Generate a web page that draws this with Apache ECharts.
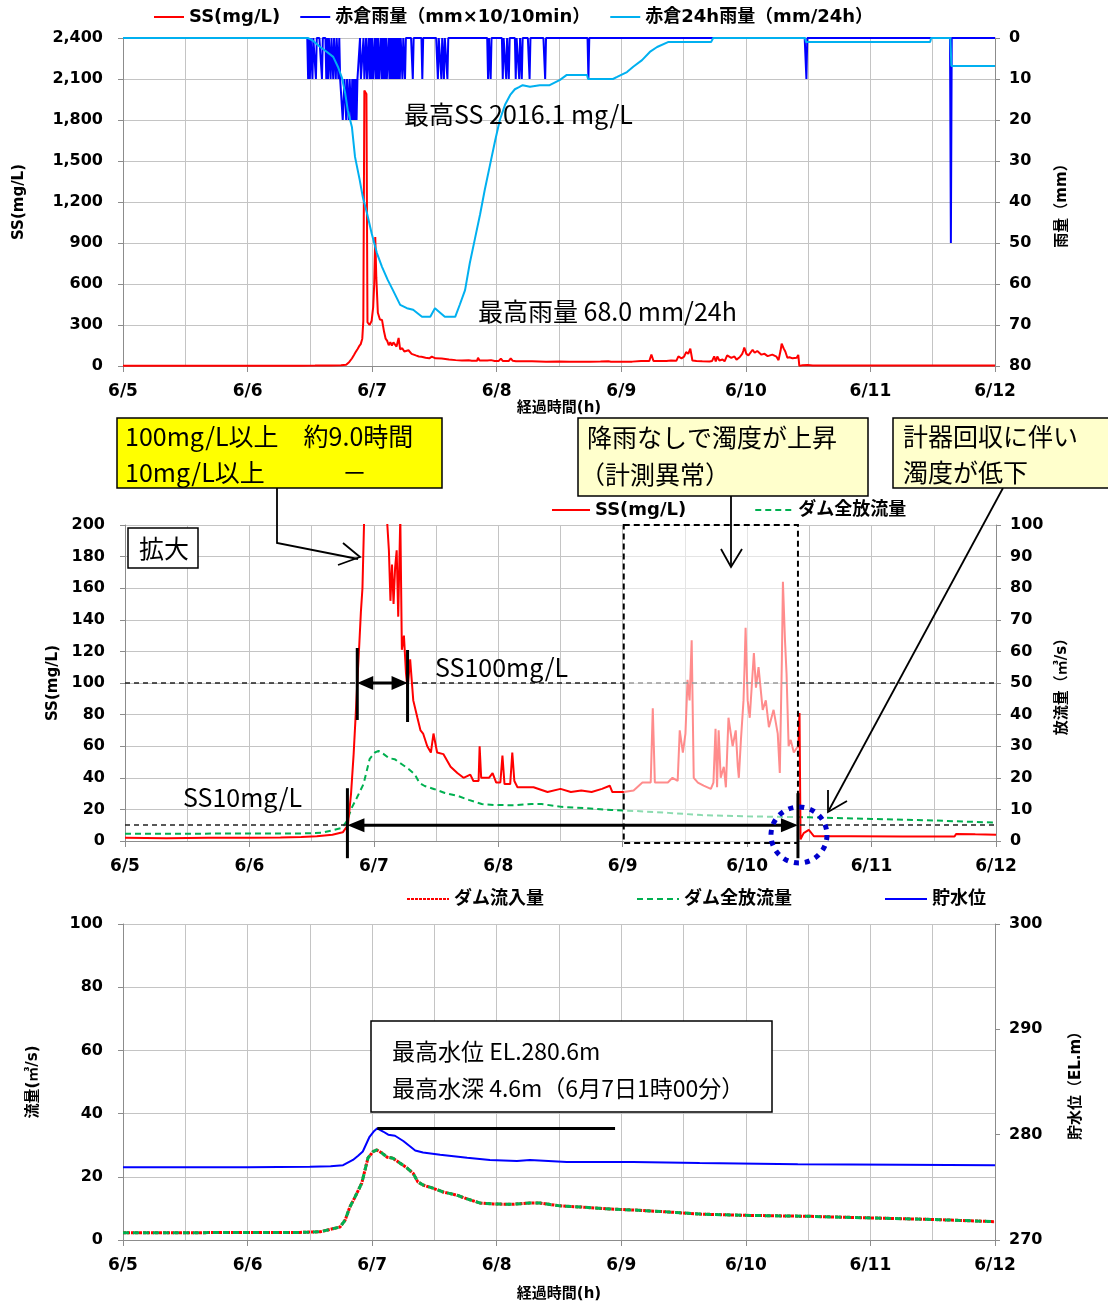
<!DOCTYPE html>
<html><head><meta charset="utf-8">
<script src="https://cdn.jsdelivr.net/npm/echarts@6/dist/echarts.min.js"></script>
<style>html,body{margin:0;padding:0;background:#fff}#c{width:1108px;height:1303px}</style>
</head><body><div id="c"></div>
<script>
// ---- tick labels ----
const dayLabels = ['6/5','6/6','6/7','6/8','6/9','6/10','6/11','6/12'];
// ---- data (x = hours since 6/5 0:00) ----
const ssSeries = [[0,2],[8,1.8],[16,2],[24,2],[30,2.2],[34,2.5],[37,3],[40,4],[42,5.5],[43,10],[43.6,30],[44.1,55],[44.5,80],[44.8,100],[45.2,125],[45.5,145],[45.8,160],[46.1,200],[46.3,330],[46.5,2016.1],[46.9,1990],[47.1,320],[47.5,300],[47.9,330],[48.2,430],[48.4,600],[48.6,944],[48.8,650],[49.1,390],[49.5,340],[49.9,337],[50.3,250],[50.6,200],[50.9,184],[51.2,152],[51.5,175],[51.8,150],[52.1,173],[52.4,184],[52.7,142],[53.1,205],[53.4,121],[53.8,130],[54.2,106],[54.5,96],[55.0,115],[55.6,89],[56.4,78],[57.0,70],[57.5,68],[58.3,60],[59.0,56],[59.5,68],[60.2,56],[61.4,55],[62.8,47],[64.1,43],[65.3,40],[66.6,42],[67.2,38],[68.2,38],[68.4,60],[68.7,40],[70.2,40],[70.9,43],[71.6,37],[72.4,37],[72.8,54],[73.2,36],[74.3,36],[74.7,56],[75.1,38],[75.7,34],[78.8,34],[81.5,31],[84,33],[86,31],[88,32],[90,31],[92,33],[93.5,35],[94,31],[96.2,31],[98.1,32],[99.8,37],[101.4,37],[101.8,84],[102.2,37],[104.7,37],[105.6,40],[106.6,38],[107,70],[107.6,56],[108.1,68],[108.5,102],[108.9,89],[109.3,127],[109.7,40],[110.5,37],[111.6,35],[113,33],[113.5,37],[113.9,71],[114.2,34],[114.5,70],[114.9,40],[115.5,47],[115.9,34],[116.4,78],[117.2,60],[117.8,70],[118.2,47],[118.4,40],[118.8,64],[119.3,89],[119.5,110],[119.7,135],[120.1,89],[120.5,78],[121.3,119],[121.7,97],[122.2,110],[123,83],[123.6,89],[124.2,72],[125.1,83],[125.9,68],[126.3,43],[126.7,115],[126.9,164],[127.3,127],[127.6,106],[128,60],[128.4,64],[129,56],[129.8,60],[130.1,81],[130.3,1],[130.9,5],[131.9,7],[132.9,3],[140,3],[150,2.8],[160,2.8],[160.3,4.5],[164,4.2],[168,4]];
// 10-minute rainfall (index of 10-min step, value mm x10)
const rainIdx = [214,216,219,223,230,235,237,240,243,246,249,
  251,252,253,254,255,256,257,258,259,260,261,262,263,264,265,266,267,268,269,270,271,272,273,275,276,277,279,280,282,283,285,
  287,289,290,292,294,296,297,299,301,303,305,306,308,310,312,314,316,318,320,323,326,
  335,346,364,368,371,375,422,425,439,443,446,454,458,461,470,488,538,790,957];
const rainVal = [10,10,10,10,10,10,10,10,10,10,10,
  10,10,10,20,20,10,10,20,10,10,20,10,10,20,10,20,10,20,10,20,10,10,10,10,10,10,10,10,10,10,10,
  10,10,10,10,10,10,10,10,10,10,10,10,10,10,10,10,10,10,10,10,10,
  10,10,10,10,10,10,10,10,10,10,10,10,10,10,10,10,10,10,50];
const rain24 = [[0,0],[35.6,0],[36.4,0.5],[38.0,2.2],[39.3,3.4],[40.5,4.6],[41.4,7],[42.2,9.8],[42.8,13.4],[43.3,17.6],[44.1,21.7],[44.7,29],[45.6,34.6],[46.2,38.8],[47.0,42.7],[47.9,47.6],[48.9,52.4],[49.9,55.8],[51.0,59],[52.0,61.5],[53.4,65.1],[54.7,65.9],[55.9,66.3],[57.6,68],[59.2,68],[60.1,65.9],[61.1,67],[62.0,68],[64.0,68],[64.9,65],[65.9,61.5],[66.8,55],[67.8,49],[68.8,43],[69.7,37],[70.7,31],[71.7,25],[72.6,20],[73.6,16.3],[74.6,13.9],[75.5,12.5],[76.3,12],[77.0,11.5],[78.4,11.9],[80.3,11.5],[82.2,11.5],[84.2,10.2],[85.5,9],[89.4,9],[89.6,10],[94.4,10],[95.2,9.5],[97.1,8.3],[98.3,7],[100.0,5.4],[101.5,3.4],[102.9,2.2],[105.0,1],[113.3,1],[113.7,0],[131.4,0],[131.6,1],[155.5,1],[155.7,0],[159.4,0],[159.6,6.8],[168,6.8]];
const outflow = [[0,2.3],[12,2.3],[24,2.4],[34.1,2.4],[38.0,2.6],[41.8,4.1],[42.8,6.3],[43.7,10.4],[44.7,13.6],[46.0,18],[46.6,22],[47.2,26],[48.2,28],[48.9,28.5],[49.9,27.5],[50.9,26.2],[52.0,25.9],[53.4,24.3],[54.7,22.8],[55.9,21.1],[56.8,18.4],[57.8,17.4],[59.7,16.4],[61.7,15.2],[64.3,14.2],[66.3,13],[68.8,11.7],[71.3,11.4],[75.1,11.3],[78.4,11.7],[80.3,11.7],[84.2,10.8],[88.6,10.4],[93.8,9.8],[98.3,9.5],[104.8,8.9],[111.2,8.2],[120,7.8],[132,7.5],[144,7.0],[156,6.5],[168,5.8]];
const inflow = [[0,2.3],[12,2.3],[24,2.4],[34.1,2.4],[38.0,2.6],[41.8,4.1],[42.8,6.3],[43.7,10.4],[44.7,13.6],[46.0,18],[46.6,22],[47.2,26],[48.2,28],[48.9,28.5],[49.9,27.5],[50.9,26.2],[52.0,25.9],[53.4,24.3],[54.7,22.8],[55.9,21.1],[56.8,18.4],[57.8,17.4],[59.7,16.4],[61.7,15.2],[64.3,14.2],[66.3,13],[68.8,11.7],[71.3,11.4],[75.1,11.3],[78.4,11.7],[80.3,11.7],[84.2,10.8],[88.6,10.4],[93.8,9.8],[98.3,9.5],[104.8,8.9],[111.2,8.2],[120,7.8],[132,7.5],[144,7.0],[156,6.5],[168,5.8]];
const level = [[0,276.9],[12,276.9],[24,276.9],[36,276.95],[40,277.0],[42.4,277.1],[44.3,277.6],[45.3,278.0],[46.2,278.4],[47.5,279.8],[48.4,280.35],[49.0,280.6],[50.1,280.3],[51.1,280.0],[52.4,279.9],[54.0,279.4],[56.3,278.5],[57.8,278.3],[61.1,278.1],[66.3,277.8],[70.7,277.6],[75.9,277.5],[78.4,277.6],[85.5,277.4],[98.2,277.4],[111.1,277.3],[130,277.2],[150,277.15],[168,277.1]];
const maxLevelLine = [49.0, 94.8, 280.6];
const abnormalPeriod = [96.2, 129.8];
const span100 = [44.8, 54.5];
const span10 = [42.9, 129.8];

// build 10-min rainfall series
const rainMap = {};
rainIdx.forEach((k,i)=>{ rainMap[k] = rainVal[i]; });
const rainSeries = [];
for (let k = 0; k <= 1008; k++) rainSeries.push([k/6, rainMap[k] || 0]);

const AX = '#8c8c8c', GRID = '#c4c4c4';
const FONT = "'DejaVu Sans','Noto Sans CJK JP'";
const tickLbl = {fontFamily: FONT, fontWeight: 'bold', fontSize: 16, color: '#000'};
const nameStyle = {fontFamily: FONT, fontWeight: 'bold', fontSize: 15, color: '#000'};

function xAx(gi, showName, nameGap){
  return {type:'value', gridIndex: gi, min:0, max:168, interval:24,
    axisLine:{show:true, onZero:false, lineStyle:{color:AX}},
    axisTick:{show:true, length:6, lineStyle:{color:AX}},
    axisLabel:Object.assign({}, tickLbl, {fontSize:17, margin:17, formatter: v => (v % 24 === 0 ? dayLabels[v/24] : '')}),
    splitLine:{show:true, lineStyle:{color:GRID}},
    minorTick:{show:false, splitNumber:2},
    minorSplitLine:{show:true, lineStyle:{color:GRID}},
    name: showName ? '経過時間(h)' : '', nameLocation:'middle', nameGap: nameGap || 30, nameTextStyle: nameStyle};
}
function yAx(gi, pos, min, max, interval, opts){
  return Object.assign({type:'value', gridIndex: gi, position: pos, min, max, interval,
    axisLine:{show:true, lineStyle:{color:AX}},
    axisTick:{show:true, length:5, lineStyle:{color:AX}},
    axisLabel:Object.assign({}, tickLbl, {margin: pos === 'left' ? 20 : 14}),
    splitLine:{show: pos === 'left', lineStyle:{color:GRID}},
    nameLocation:'middle', nameRotate:90, nameTextStyle: nameStyle}, opts || {});
}

const legendText = {fontFamily: FONT, fontWeight:'bold', fontSize:18, color:'#000'};
const legendItem = {color:'rgba(0,0,0,0)', borderWidth:0, borderColor:'rgba(0,0,0,0)'};
const option = {
  animation: false,
  backgroundColor: '#fff',
  textStyle: {fontFamily: FONT},
  grid: [
    {left:123, top:38, width:872, height:328},
    {left:125, top:525, width:871, height:316},
    {left:123, top:924, width:872, height:316}
  ],
  legend: [
    {data:['SS(mg/L)','赤倉雨量（mm×10/10min）','赤倉24h雨量（mm/24h）'], left:148, top:3, itemWidth:30, itemHeight:14, itemGap:19, itemStyle:legendItem, textStyle:legendText},
    {data:['SS(mg/L)','ダム全放流量'], left:546, top:496, itemWidth:38, itemHeight:14, itemGap:68, itemStyle:legendItem, textStyle:legendText},
    {data:['ダム流入量','ダム全放流量','貯水位'], left:401, top:885, itemWidth:42, itemHeight:14, itemGap:92, itemStyle:legendItem, textStyle:legendText}
  ],
  xAxis: [xAx(0, true, 34), xAx(1, false), xAx(2, true, 47)],
  yAxis: [
    yAx(0,'left',0,2400,300,{name:'SS(mg/L)', nameGap:96, axisLabel:Object.assign({}, tickLbl, {margin:20, formatter: v => v.toLocaleString('en-US')})}),
    yAx(0,'right',0,80,10,{inverse:true, name:'雨量（mm）', nameGap:60}),
    yAx(1,'left',0,200,20,{name:'SS(mg/L)', nameGap:60}),
    yAx(1,'right',0,100,10,{name:'放流量（㎥/s）', nameGap:56}),
    yAx(2,'left',0,100,20,{name:'流量(㎥/s)', nameGap:82}),
    yAx(2,'right',270,300,10,{name:'貯水位（EL.m）', nameGap:74})
  ],
  series: [
    {name:'SS(mg/L)', type:'line', xAxisIndex:0, yAxisIndex:0, data: ssSeries, symbol:'none', lineStyle:{color:'#FF0000', width:2}, itemStyle:{color:'#FF0000'}, z:2},
    {name:'赤倉雨量（mm×10/10min）', type:'line', xAxisIndex:0, yAxisIndex:1, data: rainSeries, symbol:'none', lineStyle:{color:'#0000FF', width:2}, itemStyle:{color:'#0000FF'}, z:3},
    {name:'赤倉24h雨量（mm/24h）', type:'line', xAxisIndex:0, yAxisIndex:1, data: rain24, symbol:'none', lineStyle:{color:'#00B0F0', width:2}, itemStyle:{color:'#00B0F0'}, z:4},
    {name:'SS(mg/L)', type:'line', xAxisIndex:1, yAxisIndex:2, data: ssSeries, symbol:'none', lineStyle:{color:'#FF0000', width:2}, itemStyle:{color:'#FF0000'}, z:3,
      markLine:{silent:true, symbol:'none', label:{show:false}, lineStyle:{color:'#222', type:[5,4], width:1.5}, data:[{yAxis:100},{yAxis:10}]}},
    {name:'ダム全放流量', type:'line', xAxisIndex:1, yAxisIndex:3, data: outflow, symbol:'none', lineStyle:{color:'#00B050', width:2, type:[6,4]}, itemStyle:{color:'#00B050'}, z:2},
    {name:'ダム流入量', type:'line', xAxisIndex:2, yAxisIndex:4, data: inflow, symbol:'none', lineStyle:{color:'#FF0000', width:3, type:[3,1]}, itemStyle:{color:'#FF0000'}, z:2},
    {name:'ダム全放流量', type:'line', xAxisIndex:2, yAxisIndex:4, data: outflow, symbol:'none', lineStyle:{color:'#00B050', width:3, type:[6,4]}, itemStyle:{color:'#00B050'}, z:3},
    {name:'貯水位', type:'line', xAxisIndex:2, yAxisIndex:5, data: level, symbol:'none', lineStyle:{color:'#0000FF', width:2}, itemStyle:{color:'#0000FF'}, z:3,
      markLine:{silent:true, symbol:'none', label:{show:false}, lineStyle:{color:'#000', type:'solid', width:3},
        data:[[{coord:[maxLevelLine[0], maxLevelLine[2]]},{coord:[maxLevelLine[1], maxLevelLine[2]]}]]}}
  ]
};
const chart = echarts.init(document.getElementById('c'));
chart.setOption(option);

// ---- annotations ----
const P = (si, pt) => chart.convertToPixel({seriesIndex: si}, pt);
const Z = 100;
const TF = '25px "Noto Sans CJK JP"';
const g = [];
function txt(x, y, t, font){ g.push({type:'text', x, y, z:Z+2, style:{text:t, font: font || TF, fill:'#000', verticalAlign:'middle'}}); }
function box(x, y, w, h, fill){ g.push({type:'rect', z:Z+1, shape:{x, y, width:w, height:h}, style:{fill, stroke:'#000', lineWidth:1.5}}); }
function pl(points, w, dash){ g.push({type:'polyline', z:Z, shape:{points}, style:{stroke:'#000', lineWidth:w || 1.8, fill:null, lineDash: dash || null}}); }
function tri(points){ g.push({type:'polygon', z:Z, shape:{points}, style:{fill:'#000'}}); }

// abnormal period overlay
const a0 = P(3, [abnormalPeriod[0], 200]), a1 = P(3, [abnormalPeriod[1], 0]);
g.push({type:'rect', z:Z-5, shape:{x:a0[0], y:a0[1], width:a1[0]-a0[0], height:a1[1]-a0[1]+2}, style:{fill:'rgba(255,255,255,0.55)', stroke:'#000', lineWidth:2, lineDash:[6,4]}});

// SS100 span
const s1 = P(3, [span100[0], 100]), s2 = P(3, [span100[1], 100]);
pl([[s1[0], s1[1]-35],[s1[0], s1[1]+37]], 3);
pl([[s2[0], s2[1]-33],[s2[0], s2[1]+39]], 3);
pl([[s1[0]+10, s1[1]],[s2[0]-10, s2[1]]], 3);
tri([[s1[0], s1[1]],[s1[0]+16, s1[1]-7],[s1[0]+16, s1[1]+7]]);
tri([[s2[0], s2[1]],[s2[0]-16, s2[1]-7],[s2[0]-16, s2[1]+7]]);
// SS10 span
const t1 = P(3, [span10[0], 10]), t2 = P(3, [span10[1], 10]);
pl([[t1[0], t1[1]-37],[t1[0], t1[1]+33]], 3);
pl([[t2[0], t2[1]-32],[t2[0], t2[1]+33]], 3);
pl([[t1[0]+10, t1[1]],[t2[0]-10, t2[1]]], 3);
tri([[t1[0], t1[1]],[t1[0]+17, t1[1]-7],[t1[0]+17, t1[1]+7]]);
tri([[t2[0], t2[1]],[t2[0]-17, t2[1]-7],[t2[0]-17, t2[1]+7]]);

// blue dotted circle
const cc = P(3, [130, 3.8]);
g.push({type:'circle', z:Z, shape:{cx:cc[0], cy:cc[1], r:28}, style:{fill:null, stroke:'#0000CC', lineWidth:5, lineDash:[5,6]}});

// boxes
box(117, 418, 325, 70, '#FFFF00');
txt(125, 436, '100mg/L以上　約9.0時間');
txt(125, 472, '10mg/L以上');
txt(342, 472, '－');
box(578, 418, 290, 78, '#FFFFCC');
txt(587, 437, '降雨なしで濁度が上昇');
txt(580, 474, '（計測異常）');
box(893, 418, 220, 70, '#FFFFCC');
txt(903, 436, '計器回収に伴い');
txt(903, 472, '濁度が低下');
box(128, 528, 70, 40, '#FFFFFF');
txt(139, 548, '拡大');

// arrows from boxes
pl([[277,488],[277,543],[358,559]]);
pl([[343,543],[360,557],[338,565]]);
pl([[731,496],[731,566]]);
pl([[721,549],[731,567],[742,549]]);
pl([[1003,488],[829,810]]);
pl([[828,790],[828,812],[847,801]]);

// labels
txt(435, 667, 'SS100mg/L');
txt(183, 797, 'SS10mg/L');
txt(404, 114, '最高SS 2016.1 mg/L');
txt(478, 311, '最高雨量 68.0 mm/24h');

// bottom box
box(371, 1021, 401, 91, '#FFFFFF');
txt(392, 1051, '最高水位 EL.280.6m', '23px "Noto Sans CJK JP"');
txt(392, 1088, '最高水深 4.6m（6月7日1時00分）', '23px "Noto Sans CJK JP"');

chart.setOption({graphic: g});
</script></body></html>
